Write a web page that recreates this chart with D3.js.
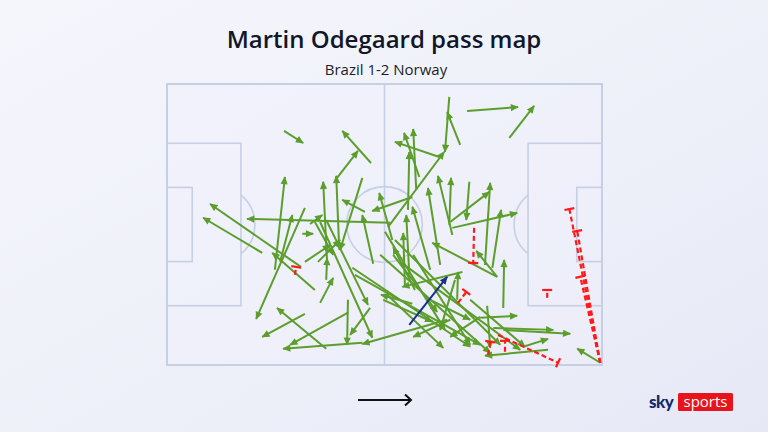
<!DOCTYPE html>
<html>
<head>
<meta charset="utf-8">
<script src="https://cdn.jsdelivr.net/npm/d3@7"></script>
<style>
html,body{margin:0;padding:0;}
body{width:768px;height:432px;overflow:hidden;}
svg{display:block;}
</style>
</head>
<body>
<svg id="chart" width="768" height="432"></svg>
<script>
// Pitch coordinates: Opta-style 0-100 in both directions (x: own goal -> opposition goal, y: top -> bottom)
const title = "Martin Odegaard pass map";
const subtitle = "Brazil 1-2 Norway";

// completed passes [x1, y1, x2, y2]
const completedPasses = [
  [26.9,16.7,31.3,21.0],[46.9,28.1,40.3,16.7],[39.1,33.4,43.9,23.8],[39.6,59.0,38.9,32.7],
  [24.8,66.1,27.1,33.1],[36.8,63.3,35.9,34.8],[51.3,49.4,18.4,48.0],[30.8,65.1,9.9,42.7],
  [21.9,60.1,8.3,47.6],[34.0,73.3,24.2,60.1],[31.7,44.1,20.5,83.6],[31.1,53.3,33.6,53.3],
  [31.7,81.8,21.9,90.0],[36.6,94.2,25.3,79.7],[41.6,81.4,28.3,92.8],[44.9,92.1,26.7,94.2],
  [64.4,83.9,44.9,92.5],[41.6,76.8,41.4,92.8],[46.7,79.7,42.1,89.3],[35.2,49.1,47.2,90.3],
  [35.2,77.9,38.2,69.0],[36.6,69.7,36.8,61.9],[64.9,4.6,63.9,24.2],[67.4,21.7,64.4,10.0],
  [69.0,9.6,80.7,8.2],[78.7,19.2,84.4,7.8],[62.6,26.0,52.4,20.6],[58.0,33.1,54.5,17.4],
  [57.3,37.7,56.6,16.0],[55.4,44.8,55.7,24.2],[50.8,50.9,63.7,24.2],[56.4,40.2,47.2,45.2],
  [45.5,45.5,40.3,41.2],[65.6,53.7,62.3,32.7],[64.9,50.1,65.3,33.4],[62.8,64.4,60.0,37.0],
  [69.5,34.8,68.8,48.4],[73.1,64.4,74.3,35.2],[65.1,49.1,74.1,38.4],[65.6,51.2,80.5,45.9],
  [74.8,65.4,76.8,44.8],[60.5,66.1,56.4,43.7],[55.7,67.9,55.0,46.6],[54.7,71.5,54.3,53.0],
  [57.0,73.3,52.0,58.0],[44.9,33.4,39.8,59.0],[26.0,63.3,28.8,46.6],[32.9,49.8,35.7,46.6],
  [75.9,68.6,61.0,56.5],[77.3,79.7,77.5,62.6],[75.0,86.8,88.8,87.5],[77.3,87.5,92.7,88.9],
  [81.9,93.5,87.6,90.7],[87.6,94.6,73.1,96.7],[99.6,99.2,94.3,94.2],[67.9,66.9,54.1,72.2],
  [65.1,83.9,56.6,90.0],[50.6,75.0,63.5,93.9],[72.0,82.9,65.1,90.0],[51.8,55.5,48.8,38.8],
  [34.0,49.1,38.2,60.8],[31.7,63.3,37.5,57.3],[34.7,63.3,39.8,55.5],[47.4,64.0,44.9,46.6],
  [36.6,48.4,46.2,78.6],[42.6,65.4,69.7,93.5],[43.2,67.9,72.0,92.8],[49.0,60.8,74.3,95.7],
  [52.4,55.5,76.6,92.8],[53.6,63.3,81.2,94.6],[69.7,76.8,82.3,93.5],[75.9,68.6,71.1,59.4],
  [73.6,78.9,74.3,93.9],[56.4,78.2,49.2,75.0],[52.0,60.8,62.1,81.1],[56.6,60.8,69.7,92.8],
  [66.7,76.8,66.9,66.9],[72.0,83.2,80.5,82.5],[50.1,52.6,63.9,87.5],[49.7,76.8,61.0,84.6],
  [60.5,76.8,69.7,83.9],[66.2,69.7,62.8,87.5]
];

// key pass / assist [x1, y1, x2, y2]
const keyPasses = [
  [55.7,85.7,64.4,68.6]
];

// unsuccessful passes [x1, y1, x2, y2]
const failedPasses = [
  [70.6,51.2,70.4,63.7],[66.9,77.9,68.8,74.0],[76.1,89.3,89.9,99.2],
  [99.6,99.2,92.5,44.5],[99.6,99.2,94.3,52.3],[99.6,99.2,95.0,68.6],
  [87.4,76.1,87.4,73.3],[73.8,96.4,74.3,91.7],[77.7,95.3,77.7,91.4],
  [29.4,67.9,29.7,65.1]
];

const svg = d3.select("#chart");
const W = 768, H = 432;

// background gradient
const defs = svg.append("defs");
const bg = defs.append("linearGradient").attr("id","bg")
  .attr("x1","0").attr("y1","0").attr("x2","1").attr("y2","1");
bg.append("stop").attr("offset","0%").attr("stop-color","#f5f6fc");
bg.append("stop").attr("offset","55%").attr("stop-color","#eef0f9");
bg.append("stop").attr("offset","100%").attr("stop-color","#e6e8f6");
svg.append("rect").attr("width",W).attr("height",H).attr("fill","url(#bg)");

function marker(id, color){
  defs.append("marker").attr("id",id)
    .attr("viewBox","0 0 10 10").attr("refX",9).attr("refY",5)
    .attr("markerUnits","userSpaceOnUse")
    .attr("markerWidth",9).attr("markerHeight",8)
    .attr("orient","auto")
    .append("path").attr("d","M0,0.5 L10,5 L0,9.5 Z").attr("fill",color);
}
const green = "#5c9e2c", blue = "#1b2f8c", red = "#ff1a1a";
marker("headG", green);
marker("headB", blue);

// scales
const x = d3.scaleLinear().domain([0,100]).range([167,602]);
const y = d3.scaleLinear().domain([0,100]).range([84,365]);

// titles
svg.append("text").attr("x",384).attr("y",48).attr("text-anchor","middle")
  .attr("font-family","Open Sans, Inter, sans-serif").attr("font-weight",600)
  .attr("font-size",24).attr("fill","#121629").text(title);
svg.append("text").attr("x",386).attr("y",75).attr("text-anchor","middle")
  .attr("font-family","Open Sans, Inter, sans-serif").attr("font-size",15)
  .attr("fill","#1c1f2e").text(subtitle);

// pitch
const lineCol = "#c7cfe4";
const pitch = svg.append("g").attr("fill","none").attr("stroke",lineCol).attr("stroke-width",1.6);
pitch.append("rect").attr("x",x(0)).attr("y",y(0)).attr("width",x(100)-x(0)).attr("height",y(100)-y(0))
  .attr("fill","#f1f2fb").attr("fill-opacity",0.35).attr("stroke-width",2);
pitch.append("line").attr("x1",x(50)).attr("x2",x(50)).attr("y1",y(0)).attr("y2",y(100));
const r = x(8.7)-x(0);
pitch.append("circle").attr("cx",x(50)).attr("cy",y(50)).attr("r",r);
// penalty areas and six-yard boxes
[[0,17],[83,100]].forEach(([a,b])=>{
  pitch.append("rect").attr("x",x(a)).attr("y",y(21.1)).attr("width",x(b)-x(a)).attr("height",y(78.9)-y(21.1));
});
[[0,5.8],[94.2,100]].forEach(([a,b])=>{
  pitch.append("rect").attr("x",x(a)).attr("y",y(36.8)).attr("width",x(b)-x(a)).attr("height",y(63.2)-y(36.8));
});
// penalty arcs
function arcPath(spotX, edgeX, dir){
  const cx = x(spotX), cy = y(50);
  const dx = Math.abs(x(edgeX)-cx);
  const ang = Math.acos(dx/r);
  const p = d3.path();
  if(dir>0){ p.arc(cx,cy,r,-ang,ang,false); }
  else { p.arc(cx,cy,r,Math.PI-ang,Math.PI+ang,false); }
  return p.toString();
}
pitch.append("path").attr("d",arcPath(11.5,17,1));
pitch.append("path").attr("d",arcPath(88.5,83,-1));

// completed passes
svg.append("g").selectAll("line").data(completedPasses).join("line")
  .attr("x1",d=>x(d[0])).attr("y1",d=>y(d[1])).attr("x2",d=>x(d[2])).attr("y2",d=>y(d[3]))
  .attr("stroke",green).attr("stroke-width",2).attr("marker-end","url(#headG)");

// key passes
svg.append("g").selectAll("line").data(keyPasses).join("line")
  .attr("x1",d=>x(d[0])).attr("y1",d=>y(d[1])).attr("x2",d=>x(d[2])).attr("y2",d=>y(d[3]))
  .attr("stroke",blue).attr("stroke-width",2).attr("marker-end","url(#headB)");

// failed passes: dashed with perpendicular bar at end
const fg = svg.append("g");
failedPasses.forEach(d=>{
  const x1=x(d[0]), y1=y(d[1]), x2=x(d[2]), y2=y(d[3]);
  fg.append("line").attr("x1",x1).attr("y1",y1).attr("x2",x2).attr("y2",y2)
    .attr("stroke",red).attr("stroke-width",2.2).attr("stroke-dasharray","5,3");
  const len = Math.hypot(x2-x1,y2-y1)||1;
  const nx = -(y2-y1)/len, ny = (x2-x1)/len;
  fg.append("line").attr("x1",x2-nx*5).attr("y1",y2-ny*5).attr("x2",x2+nx*5).attr("y2",y2+ny*5)
    .attr("stroke",red).attr("stroke-width",2.2);
});

// direction of play arrow
const dirArrow = svg.append("g").attr("stroke","#111").attr("stroke-width",2).attr("fill","none");
dirArrow.append("line").attr("x1",358).attr("y1",400).attr("x2",411).attr("y2",400);
dirArrow.append("path").attr("d","M405,394.5 L411,400 L405,405.5").attr("stroke-linejoin","miter");

// sky sports logo
const logo = svg.append("g");
logo.append("text").attr("x",649).attr("y",408).attr("font-family","Lato, Open Sans, sans-serif")
  .attr("font-weight",900).attr("font-size",17).attr("fill","#13296b").attr("letter-spacing",-0.5).text("sky");
logo.append("rect").attr("x",678).attr("y",393).attr("width",55).attr("height",18).attr("rx",1.5).attr("fill","#e8141b");
logo.append("text").attr("x",705.5).attr("y",407).attr("text-anchor","middle")
  .attr("font-family","Open Sans, Lato, sans-serif").attr("font-size",15).attr("fill","#ffffff").text("sports");
</script>
</body>
</html>
